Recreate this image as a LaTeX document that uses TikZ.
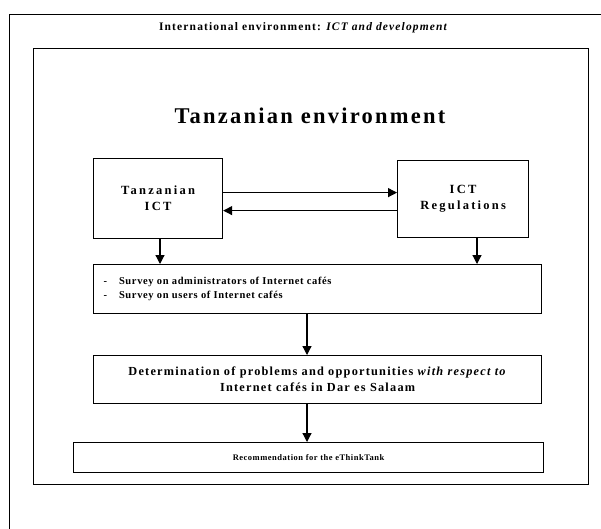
\documentclass[tikz,border=0pt]{standalone}
\usepackage{fontspec}
\setmainfont{Liberation Serif}
\newfontfamily\widefont[LetterSpace=18]{Liberation Serif}
\newfontfamily\headfont[LetterSpace=10]{Liberation Serif}
\newfontfamily\midfont[LetterSpace=6]{Liberation Serif}
\usetikzlibrary{arrows.meta}

\tikzset{
  frame/.style={draw, line width=1.3pt, inner sep=0pt},
  box/.style={draw, line width=1.2pt, inner sep=0pt, anchor=north west},
  link/.style={line width=1.2pt, -{Triangle[length=9pt,width=9pt]}},
  boxtext/.style={font=\fontsize{12.5}{16}\selectfont\widefont\bfseries, align=center},
  listtext/.style={font=\fontsize{10.5}{14.5}\selectfont\midfont\bfseries, align=left},
}

\begin{document}
\begin{tikzpicture}[x=1pt,y=-1pt]
  \useasboundingbox (0,0) rectangle (601,528);
  \clip (0,0) rectangle (601,528);

  % surrounding frames
  \node (outer) [frame, anchor=north west, minimum width=620pt, minimum height=540pt] at (9,14) {};
  \node (inner) [frame, anchor=north west, minimum width=555pt, minimum height=436pt] at (33,48) {};

  \node (intl) [font=\fontsize{11.5}{13}\selectfont\headfont\bfseries] at (303,28)
    {International environment: \itshape ICT and development};
  \node (tzenv) [font=\fontsize{22.5}{25}\selectfont\headfont\bfseries] at (310,116) {Tanzanian environment};

  % boxes
  \node (ict) [box, minimum width=129pt, minimum height=80pt] at (93,158) {};
  \node [boxtext] at (ict.center) {Tanzanian\\ICT};

  \node (reg) [box, minimum width=131pt, minimum height=77pt] at (397,160) {};
  \node [boxtext] at (reg.center) {ICT\\Regulations};

  \node (survey) [box, minimum width=448pt, minimum height=49pt] at (93,264) {};
  \node [listtext, anchor=west] at ([xshift=7pt]survey.west)
    {-\hspace{12pt}Survey on administrators of Internet cafés\\
     -\hspace{12pt}Survey on users of Internet cafés};

  \node (determ) [box, minimum width=448pt, minimum height=48pt] at (93,355) {};
  \node [font=\fontsize{12.3}{16}\selectfont\headfont\bfseries, align=center] at (determ.center)
    {Determination of problems and opportunities \textit{with respect to}\\
     Internet cafés in Dar es Salaam};

  \node (rec) [box, minimum width=470pt, minimum height=30pt] at (73,442) {};
  \node [font=\fontsize{8.5}{10}\selectfont\midfont\bfseries] at (rec.center) {Recommendation for the eThinkTank};

  % connectors
  \draw[link] ([yshift=6pt]ict.east) -- ([yshift=6pt]ict.east -| reg.west);
  \draw[link] ([yshift=-12pt]ict.east -| reg.west) -- ([yshift=-12pt]ict.east);
  \draw[link] (ict.south -| 160,0) -- (survey.north -| 160,0);
  \draw[link] (reg.south -| 477,0) -- (survey.north -| 477,0);
  \draw[link] (survey.south -| 307,0) -- (determ.north -| 307,0);
  \draw[link] (determ.south -| 307,0) -- (rec.north -| 307,0);
\end{tikzpicture}
\end{document}
